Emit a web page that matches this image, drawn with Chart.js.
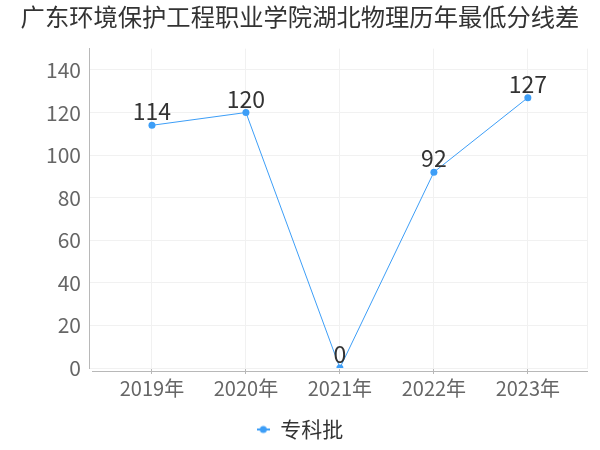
<!DOCTYPE html>
<html>
<head>
<meta charset="utf-8">
<script src="https://cdn.jsdelivr.net/npm/chart.js@4/dist/chart.umd.min.js"></script>
<style>
  html, body { margin: 0; padding: 0; background: #fff; }
  #wrap { width: 600px; height: 450px; }
</style>
</head>
<body>
<div id="wrap"><canvas id="c" width="600" height="450"></canvas></div>
<script>
/* ===== data ===== */
const years   = ['2019年', '2020年', '2021年', '2022年', '2023年'];
const scores  = [114, 120, 0, 92, 127];
const yTicks  = [0, 20, 40, 60, 80, 100, 120, 140];
const seriesName = '专科批';
const titleText  = '广东环境保护工程职业学院湖北物理历年最低分线差';

const FONT = '"Noto Sans CJK SC", "Noto Sans", sans-serif';
const BLUE = '#3d9ef7';
const AXIS = '#b8b8b8';
const GRID = '#f1f1f1';

// legend marker: short line with a dot
function legendIcon() {
  const cv = document.createElement('canvas');
  cv.width = 13; cv.height = 10;
  const g = cv.getContext('2d');
  g.strokeStyle = BLUE; g.lineWidth = 2;
  g.beginPath(); g.moveTo(0, 5); g.lineTo(13, 5); g.stroke();
  g.fillStyle = BLUE;
  g.beginPath(); g.arc(6.5, 5, 3.5, 0, Math.PI * 2); g.fill();
  return cv;
}

// value labels above points
const valueLabels = {
  id: 'valueLabels',
  afterDatasetsDraw(chart) {
    const ctx = chart.ctx;
    const meta = chart.getDatasetMeta(0);
    ctx.save();
    ctx.font = '23px ' + FONT;
    ctx.fillStyle = '#333';
    ctx.textAlign = 'center';
    ctx.textBaseline = 'alphabetic';
    meta.data.forEach((pt, i) => {
      ctx.fillText(String(scores[i]), pt.x, pt.y - 5);
    });
    ctx.restore();
  }
};

// x axis line sits a few px below the plot, plus right grid edge
const axisLine = {
  id: 'axisLine',
  beforeDatasetsDraw(chart) {
    const { ctx, chartArea: a } = chart;
    ctx.save();
    ctx.strokeStyle = GRID; ctx.lineWidth = 1;
    ctx.beginPath(); ctx.moveTo(a.right - 0.5, a.top); ctx.lineTo(a.right - 0.5, a.bottom); ctx.stroke();
    ctx.strokeStyle = AXIS;
    ctx.beginPath(); ctx.moveTo(a.left + 3, a.bottom + 3.5); ctx.lineTo(a.right, a.bottom + 3.5); ctx.stroke();
    ctx.restore();
  }
};

new Chart(document.getElementById('c').getContext('2d'), {
  type: 'line',
  data: {
    datasets: [{
      label: seriesName,
      data: scores.map((v, i) => ({ x: i, y: v })),
      borderColor: BLUE,
      backgroundColor: BLUE,
      borderWidth: 1,
      tension: 0,
      pointRadius: 3.5,
      pointHoverRadius: 3.5,
      pointBorderWidth: 0,
      pointStyle: 'circle'
    }]
  },
  options: {
    responsive: false,
    animation: false,
    layout: { padding: { left: 12, right: 12, top: 0, bottom: 0 } },
    plugins: {
      title: {
        display: true,
        text: titleText,
        color: '#333',
        font: { family: FONT, size: 24.3, weight: 'normal', lineHeight: 1.2 },
        padding: { top: 2, bottom: 17.5 }
      },
      legend: {
        position: 'bottom',
        labels: {
          color: '#333',
          font: { family: FONT, size: 21 },
          usePointStyle: true,
          pointStyleWidth: 13,
          generateLabels: () => [{
            text: seriesName,
            pointStyle: legendIcon(),
            fontColor: '#333',
            datasetIndex: 0
          }],
          padding: 6
        }
      },
      tooltip: { enabled: false }
    },
    scales: {
      x: {
        type: 'linear',
        min: -0.67,
        max: 4.64,
        afterBuildTicks: (s) => { s.ticks = years.map((_, i) => ({ value: i })); },
        afterFit: (s) => { s.height = 45; },
        ticks: {
          color: '#666',
          font: { family: FONT, size: 20 },
          padding: 2,
          callback: (v) => years[v] ?? ''
        },
        grid: { color: GRID, drawTicks: true, tickLength: 6, tickColor: AXIS },
        border: { display: false }
      },
      y: {
        min: 0,
        max: 150,
        afterBuildTicks: (s) => { s.ticks = yTicks.map(v => ({ value: v })); },
        afterFit: (s) => { s.width = 77; },
        ticks: {
          color: '#666',
          font: { family: FONT, size: 21 },
          padding: 8
        },
        grid: { color: GRID, drawTicks: false },
        border: { color: AXIS }
      }
    }
  },
  plugins: [valueLabels, axisLine]
});
</script>
</body>
</html>
